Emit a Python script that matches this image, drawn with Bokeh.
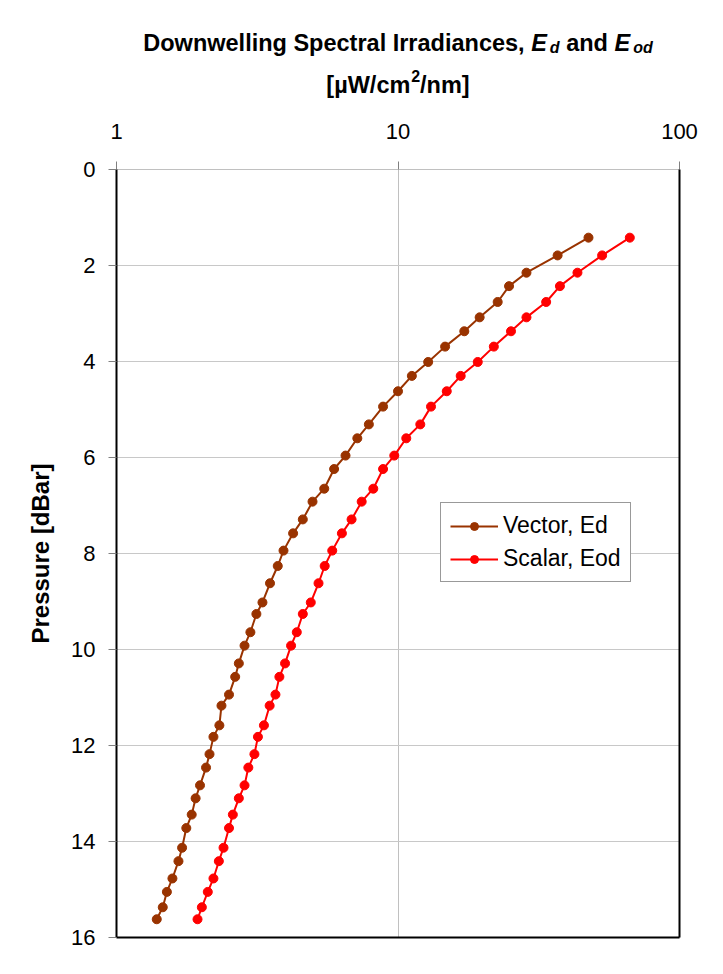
from bokeh.plotting import figure
from bokeh.layouts import column
from bokeh.models import Range1d, FixedTicker, NumeralTickFormatter, LinearAxis
from bokeh.core.properties import value
from bokeh.embed import file_html
from bokeh.resources import INLINE

# ---- data ----
pressure = [1.42, 1.79, 2.15, 2.43, 2.76, 3.08, 3.37, 3.69, 4.01, 4.30, 4.62, 4.94,
            5.31, 5.60, 5.96, 6.24, 6.65, 6.92, 7.29, 7.58, 7.94, 8.26, 8.62, 9.02,
            9.26, 9.64, 9.92, 10.29, 10.57, 10.94, 11.17, 11.58, 11.82, 12.18, 12.46,
            12.83, 13.10, 13.44, 13.72, 14.13, 14.41, 14.77, 15.05, 15.37, 15.62]
vector_ed = [47.5, 36.9, 28.6, 24.8, 22.6, 19.5, 17.2, 14.7, 12.8, 11.2, 10.0, 8.85,
             7.88, 7.17, 6.51, 5.93, 5.47, 4.97, 4.59, 4.24, 3.92, 3.74, 3.51, 3.30,
             3.14, 2.99, 2.85, 2.72, 2.64, 2.51, 2.36, 2.32, 2.21, 2.14, 2.08, 1.98,
             1.91, 1.85, 1.77, 1.71, 1.66, 1.58, 1.51, 1.46, 1.39]
scalar_eod = [66.6, 53.1, 43.4, 37.6, 33.6, 28.6, 25.2, 21.9, 19.2, 16.7, 14.9, 13.1,
              12.0, 10.7, 9.70, 8.85, 8.17, 7.43, 6.84, 6.32, 5.84, 5.49, 5.22, 4.90,
              4.59, 4.37, 4.17, 3.97, 3.79, 3.67, 3.50, 3.34, 3.18, 3.09, 2.94, 2.85,
              2.72, 2.59, 2.51, 2.40, 2.31, 2.21, 2.11, 2.01, 1.94]
x_ticks = [1, 10, 100]
y_ticks = [0, 2, 4, 6, 8, 10, 12, 14, 16]
series_names = ["Vector, Ed", "Scalar, Eod"]

FONT = "Liberation Sans"
BROWN = "#993300"
RED = "#FF0000"
FW, FH = 563, 768
BL, BR = 116, 36
TOTAL_W = BL + FW + BR
TITLE_H = 105

# ---------------- title strip (its own small figure; frame aligns with chart frame) ----------------
t = figure(width=TOTAL_W, height=TITLE_H, x_range=Range1d(BL, BL + FW),
           y_range=Range1d(TITLE_H, 0), x_axis_type=None, y_axis_type=None,
           frame_width=FW, min_border_left=BL, min_border_right=BR,
           min_border_top=0, min_border_bottom=0,
           output_backend="svg", toolbar_location=None,
           outline_line_color=None, background_fill_color="white",
           border_fill_color="white")

W = {' ': 278, ',': 278, '[': 333, ']': 333, '/': 278, 'D': 722, 'E': 667, 'I': 278,
     'S': 667, 'W': 944, 'a': 556, 'c': 556, 'd': 611, 'e': 556, 'g': 611, 'i': 278,
     'l': 278, 'm': 889, 'n': 611, 'o': 611, 'p': 611, 'r': 389, 's': 556, 't': 333,
     'u': 611, 'w': 778, '\u00b5': 611, '2': 556}


def text_width(s, size):
    return sum(W.get(ch, 556) for ch in s) * size / 1000.0


def add_runs(runs, baseline):
    total = sum(text_width(s, sz) + g for s, sz, st, dy, g in runs)
    x = BL + FW / 2.0 - total / 2.0
    for s, sz, st, dy, g in runs:
        t.text(x=[x], y=[baseline + dy], text=[s], text_font=value(FONT),
               text_font_size=value(f"{sz}px"), text_font_style=value(st),
               text_color="black", text_align="left", text_baseline="alphabetic")
        x += text_width(s, sz) + g


TF = 23.5
SUB = 16
SP = text_width(" ", TF)
line1 = [("Downwelling Spectral Irradiances,", TF, "bold", 0, SP),
         ("E", TF, "bold italic", 0, 3),
         ("d", SUB, "bold italic", 5, SP),
         ("and", TF, "bold", 0, SP),
         ("E", TF, "bold italic", 0, 3),
         ("od", SUB, "bold italic", 5, 0)]
line2 = [("[\u00b5W/cm", TF, "bold", 0, 0),
         ("2", SUB, "bold", -9, 0),
         ("/nm]", TF, "bold", 0, 0)]
add_runs(line1, 42)
add_runs(line2, 84)

# ---------------- main chart ----------------
p = figure(x_axis_type="log", x_axis_location="above",
           x_range=Range1d(1, 100), y_range=Range1d(16, 0),
           frame_width=FW, frame_height=FH,
           min_border_left=BL, min_border_right=BR,
           min_border_top=169 - TITLE_H, min_border_bottom=29,
           output_backend="svg", toolbar_location=None,
           background_fill_color="white", border_fill_color="white",
           outline_line_color=None)

xa = p.xaxis[0]
xa.ticker = FixedTicker(ticks=x_ticks, minor_ticks=[])
xa.formatter = NumeralTickFormatter(format="0")
xa.axis_line_color = "#c0c0c0"
xa.major_tick_line_color = "#808080"
xa.major_tick_out = 8
xa.major_tick_in = 0
xa.minor_tick_line_color = None
xa.major_label_text_font = FONT
xa.major_label_text_font_size = "22px"
xa.major_label_text_color = "black"
xa.major_label_standoff = 23

ya = p.yaxis[0]
ya.ticker = FixedTicker(ticks=y_ticks, minor_ticks=[])
ya.axis_line_color = "black"
ya.axis_line_width = 2
ya.major_tick_line_color = "#808080"
ya.major_tick_out = 8
ya.major_tick_in = 0
ya.minor_tick_line_color = None
ya.major_label_text_font = FONT
ya.major_label_text_font_size = "22px"
ya.major_label_text_color = "black"
ya.major_label_standoff = 13
ya.axis_label = "Pressure [dBar]"
ya.axis_label_text_font = FONT
ya.axis_label_text_font_size = "24px"
ya.axis_label_text_font_style = "bold"
ya.axis_label_text_color = "black"
ya.axis_label_standoff = 14

for side in ("right", "below"):
    ax = LinearAxis(ticker=FixedTicker(ticks=[]), axis_line_color="black", axis_line_width=2,
                    major_tick_line_color=None, minor_tick_line_color=None,
                    major_label_text_font_size="0px")
    p.add_layout(ax, side)

p.xgrid.grid_line_color = "#c0c0c0"
p.ygrid.grid_line_color = "#c8c8c8"
p.xgrid.grid_line_width = 1
p.ygrid.grid_line_width = 1

p.line(vector_ed, pressure, line_color=BROWN, line_width=2, legend_label=series_names[0])
p.scatter(vector_ed, pressure, marker="circle", size=9, fill_color=BROWN, line_color=BROWN,
          legend_label=series_names[0])
p.line(scalar_eod, pressure, line_color=RED, line_width=2, legend_label=series_names[1])
p.scatter(scalar_eod, pressure, marker="circle", size=9, fill_color=RED, line_color=RED,
          legend_label=series_names[1])

lg = p.legend[0]
lg.location = (324, 355)
lg.border_line_color = "#333333"
lg.border_line_width = 1
lg.background_fill_color = "white"
lg.background_fill_alpha = 1
lg.label_text_font = FONT
lg.label_text_font_size = "23px"
lg.label_text_color = "black"
lg.glyph_width = 48
lg.glyph_height = 20
lg.label_standoff = 5
lg.padding = 9
lg.spacing = 6
lg.margin = 0

layout = column(t, p, spacing=0)
open("out.html", "w").write(file_html(layout, INLINE))
